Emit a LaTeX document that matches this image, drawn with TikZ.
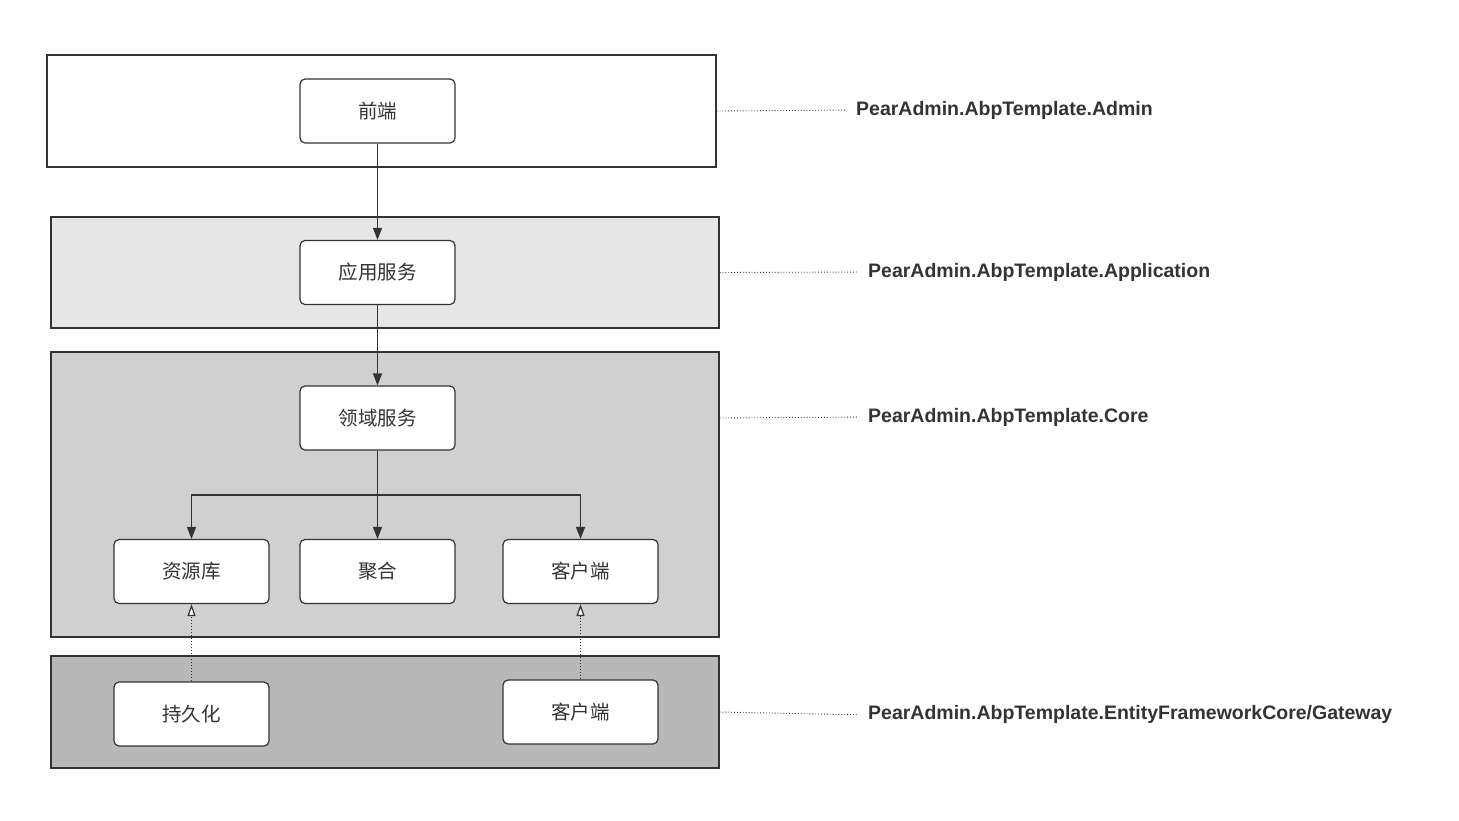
\documentclass[tikz,border=0pt]{standalone}
\usepackage{fontspec}
\setmainfont{Liberation Sans}
\newfontfamily\cjk{Noto Sans CJK SC}
\usetikzlibrary{arrows.meta}
\definecolor{ink}{HTML}{333333}
\definecolor{fillA}{HTML}{E6E6E6}
\definecolor{fillB}{HTML}{D0D0D0}
\definecolor{fillC}{HTML}{B8B8B8}
\tikzset{
  layer/.style={draw=ink, line width=1.2pt, inner sep=0pt},
  item/.style={draw=ink, fill=white, line width=1.2pt, rounded corners=5pt,
    minimum width=155pt, minimum height=64pt, inner sep=0pt,
    font=\cjk\fontsize{19.5}{23}\selectfont, text=ink},
  arr/.style={draw=ink, line width=1.5pt, -{Triangle[length=12pt,width=9pt]}},
  openarr/.style={draw=ink, line width=1pt, dotted, -{Triangle[open,length=12pt,width=8pt,fill=white,line width=1.2pt]}},
  lead/.style={draw=ink, line width=0.9pt, dotted, shorten >=11pt},
  lbl/.style={anchor=west, inner sep=0pt, text=ink, font=\bfseries\fontsize{19.5}{23}\selectfont},
}
\begin{document}
\begin{tikzpicture}[x=1pt,y=-1pt]
\useasboundingbox (0,0) rectangle (1459,820);
% layers
\node[layer, fill=white, minimum width=669pt, minimum height=112pt] (L1) at (381.5,111) {};
\node[layer, fill=fillA, minimum width=668pt, minimum height=111pt] (L2) at (385,272.5) {};
\node[layer, fill=fillB, minimum width=668pt, minimum height=285pt] (L3) at (385,494.5) {};
\node[layer, fill=fillC, minimum width=668pt, minimum height=112pt] (L4) at (385,712) {};
% items
\node[item] (front) at (377.5,111) {前端};
\node[item] (app) at (377.5,272.5) {应用服务};
\node[item] (dom) at (377.5,418) {领域服务};
\node[item] (repo) at (191.5,571.5) {资源库};
\node[item] (agg) at (377.5,571.5) {聚合};
\node[item] (cli) at (580.5,571.5) {客户端};
\node[item] (pers) at (191.5,714) {持久化};
\node[item] (cli2) at (580.5,712) {客户端};
% arrows
\draw[arr] (front.south) -- (app.north);
\draw[arr] (app.south) -- (dom.north);
\coordinate (br) at (377.5,495);
\draw[arr] (dom.south) -- (agg.north);
\draw[arr] (br) -| (repo.north);
\draw[arr] (br) -| (cli.north);
\draw[openarr] (pers.north) -- (repo.south);
\draw[openarr] (cli2.north) -- (cli.south);
% labels
\node[lbl] (t1) at (856,110) {PearAdmin.AbpTemplate.Admin};
\node[lbl] (t2) at (868,272) {PearAdmin.AbpTemplate.Application};
\node[lbl] (t3) at (868,417) {PearAdmin.AbpTemplate.Core};
\node[lbl] (t4) at (868,714) {PearAdmin.AbpTemplate.EntityFrameworkCore/Gateway};
\draw[lead] (L1.east) -- (t1.west);
\draw[lead] (L2.east) -- (t2.west);
\draw[lead] (L3.east |- dom.east) -- (t3.west);
\draw[lead] (L4.east) -- ([yshift=-1pt]t4.west);
\end{tikzpicture}
\end{document}
